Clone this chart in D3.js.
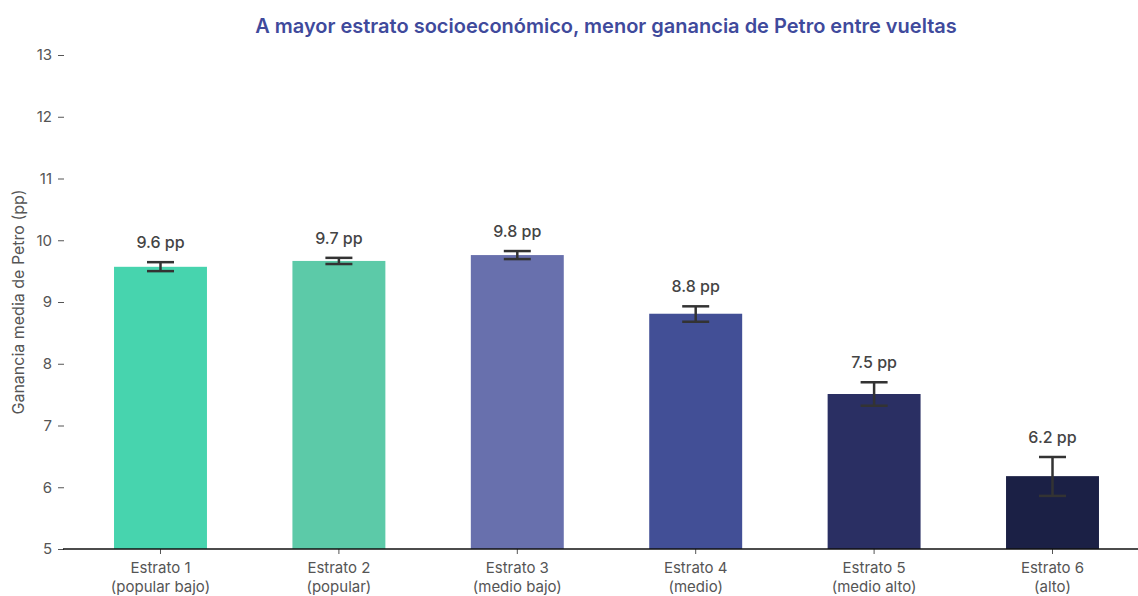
<!DOCTYPE html>
<html><head><meta charset="utf-8">
<script src="https://cdn.jsdelivr.net/npm/d3@7"></script>
<style>body{margin:0;background:#fff;} text{font-family:Inter,"Noto Sans",sans-serif;}</style>
</head><body>
<svg id="c" width="1138" height="596"></svg>
<script>
const categories = ["Estrato 1|(popular bajo)","Estrato 2|(popular)","Estrato 3|(medio bajo)","Estrato 4|(medio)","Estrato 5|(medio alto)","Estrato 6|(alto)"];
const values = [9.57, 9.665, 9.76, 8.81, 7.51, 6.18];
const errLow = [9.50, 9.615, 9.695, 8.68, 7.32, 5.86];
const errHigh = [9.645, 9.715, 9.825, 8.93, 7.70, 6.49];
const labels = ["9.6 pp","9.7 pp","9.8 pp","8.8 pp","7.5 pp","6.2 pp"];
const colors = ["#47d4ae","#5ccaa8","#6870ad","#424f96","#2a2f63","#1b2045"];
const yTicks = [5,6,7,8,9,10,11,12,13];

const svg = d3.select("#c");
const x = d3.scaleBand().domain(categories).range([63,1150]).paddingInner(0.479).paddingOuter(0.286);
const y = d3.scaleLinear().domain([5,13]).range([549,55]);

svg.append("text").attr("x",606).attr("y",33).attr("text-anchor","middle")
  .attr("font-size",20).attr("font-weight",600).attr("fill","#3f4a9c")
  .text("A mayor estrato socioeconómico, menor ganancia de Petro entre vueltas");

// y axis
const ya = svg.append("g").attr("transform","translate(64,0)")
  .call(d3.axisLeft(y).tickValues(yTicks).tickSize(6).tickPadding(6).tickFormat(d3.format("d")));
ya.select(".domain").remove();
ya.selectAll(".tick line").attr("stroke","#555");
ya.selectAll(".tick text").attr("font-size",15).attr("fill","#555").attr("font-family","Inter");

svg.append("text").attr("transform","translate(24,302) rotate(-90)").attr("text-anchor","middle")
  .attr("font-size",16).attr("fill","#555").text("Ganancia media de Petro (pp)");

// bars
svg.selectAll("rect.bar").data(categories).join("rect").attr("class","bar")
  .attr("x",d=>x(d)).attr("width",x.bandwidth())
  .attr("y",(d,i)=>y(values[i])).attr("height",(d,i)=>y(5)-y(values[i]))
  .attr("fill",(d,i)=>colors[i]);

// x axis
const xa = svg.append("g").attr("transform","translate(0,549)")
  .call(d3.axisBottom(x).tickSize(5).tickPadding(5).tickFormat(""));
xa.select(".domain").remove();
xa.selectAll(".tick line").attr("stroke","#555");
svg.append("line").attr("x1",63).attr("x2",1138).attr("y1",549).attr("y2",549).attr("stroke","#111").attr("stroke-width",1.5);
xa.selectAll(".tick").each(function(d){
  const parts = d.split("|");
  const t = d3.select(this).append("text").attr("fill","#555").attr("font-size",15).attr("text-anchor","middle");
  t.append("tspan").attr("x",0).attr("y",24).text(parts[0]);
  t.append("tspan").attr("x",0).attr("y",43).text(parts[1]);
});

// error bars
const eb = svg.append("g").attr("stroke","#333").attr("stroke-width",2.5);
categories.forEach((c,i)=>{
  const cx = x(c)+x.bandwidth()/2;
  eb.append("line").attr("x1",cx).attr("x2",cx).attr("y1",y(errLow[i])).attr("y2",y(errHigh[i]));
  eb.append("line").attr("x1",cx-13.5).attr("x2",cx+13.5).attr("y1",y(errLow[i])).attr("y2",y(errLow[i]));
  eb.append("line").attr("x1",cx-13.5).attr("x2",cx+13.5).attr("y1",y(errHigh[i])).attr("y2",y(errHigh[i]));
  svg.append("text").attr("x",cx).attr("y",y(errHigh[i])-14).attr("text-anchor","middle")
    .attr("font-size",16).attr("font-weight",500).attr("fill","#444").text(labels[i]);
});
</script>
</body></html>
